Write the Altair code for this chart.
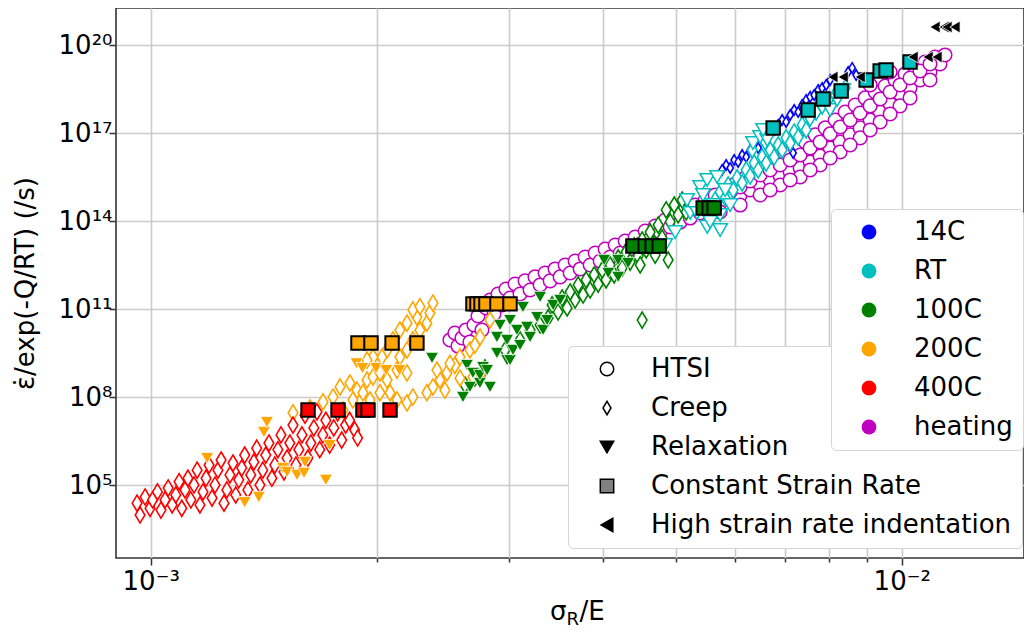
import altair as alt
import pandas as pd

# ---------------- categories ----------------
TEMPS = ["14C", "RT", "100C", "200C", "400C", "heating"]
TEMP_COLORS = ["#0000ff", "#00bfbf", "#008000", "#ffa500", "#ff0000", "#bf00bf"]
METHODS = ["HTSI", "Creep", "Relaxation", "Constant Strain Rate", "High strain rate indentation"]
THIN_DIAMOND = "M0,-1L0.6,0L0,1L-0.6,0Z"
METHOD_SHAPES = ["circle", THIN_DIAMOND, "triangle-down", "square", "triangle-left"]
METHOD_LEGEND_FILLS = ["white", "white", "black", "#808080", "black"]
METHOD_LEGEND_STROKES = ["black", "black", "black", "black", "black"]

# ---------------- data (x = sigma_R/E, y = strain rate / exp(-Q/RT)) ----------------
htsi_heating = [
    (0.002503, 8.8e9), (0.002541, 1.52e10), (0.002565, 5.45e9), (0.002597, 1.03e10), (0.002629, 1.93e10),
    (0.002661, 7.5e9), (0.002694, 2.85e10), (0.002728, 5.8e10), (0.002761, 1.93e10), (0.002796, 1.09e11),
    (0.002830, 2.03e11), (0.002865, 6.8e10), (0.002900, 3.25e11), (0.002936, 1.37e11), (0.002972, 4.8e11),
    (0.003009, 2.37e11), (0.003056, 7.1e11), (0.003103, 3.25e11), (0.003151, 9.1e11), (0.003200, 4.45e11),
    (0.003249, 1.24e12), (0.003300, 6.6e11), (0.003351, 1.69e12), (0.003403, 9.1e11), (0.003455, 2.32e12),
    (0.003509, 1.24e12), (0.003563, 3.17e12), (0.003618, 1.69e12), (0.003674, 4.33e12), (0.003731, 2.32e12),
    (0.003789, 5.9e12), (0.003847, 3.17e12), (0.003907, 8.1e12), (0.003967, 4.33e12), (0.004028, 1.11e13),
    (0.004090, 5.9e12), (0.004154, 1.52e13), (0.004218, 8.1e12), (0.004283, 2.08e13), (0.004349, 1.11e13),
    (0.004416, 2.85e13), (0.004485, 1.64e13), (0.004554, 4.57e13), (0.004624, 2.43e13), (0.004696, 6.75e13),
    (0.004768, 4.22e13), (0.004842, 1.08e14), (0.004917, 6.24e13), (0.004993, 1.61e14), (0.005070, 9.2e13),
    (0.005148, 2.38e14), (0.005228, 1.26e14), (0.005308, 3.5e14), (0.005390, 1.88e14), (0.005474, 5.2e14),
    (0.005558, 2.76e14), (0.005644, 7.7e14), (0.005731, 4.1e14), (0.005820, 1.14e15), (0.005910, 5.6e14),
    (0.006001, 1.83e15), (0.006094, 7.7e14), (0.006188, 2.94e15), (0.006283, 1.14e15), (0.006380, 4.7e15),
    (0.006479, 1.69e15), (0.006579, 7.5e15), (0.006680, 2.51e15), (0.006784, 1.20e16), (0.006888, 3.42e15),
    (0.006995, 1.93e16), (0.007103, 4.7e15), (0.007213, 3.08e16), (0.007324, 6.4e15), (0.007437, 4.96e16),
    (0.007552, 1.03e16), (0.007669, 8.6e16), (0.007787, 1.65e16), (0.007908, 1.49e17), (0.008030, 3.08e16),
    (0.008154, 2.78e17), (0.008280, 4.96e16), (0.008407, 5.2e17), (0.008537, 8.6e16), (0.008669, 9.0e17),
    (0.008803, 1.49e17), (0.008939, 1.57e18), (0.009077, 2.78e17), (0.009217, 2.5e18), (0.009360, 5.2e17),
    (0.009504, 4.0e18), (0.009651, 9.8e17), (0.009797, 6.43e18), (0.009948, 2.14e18), (0.010102, 1.03e19),
    (0.010258, 3.44e18), (0.010416, 1.65e19), (0.010577, 6.43e18), (0.010740, 2.64e19), (0.010905, 1.2e19),
    (0.011074, 3.9e19), (0.011245, 2.26e19), (0.011418, 4.58e19),
    (0.005731, 2.03e14), (0.006094, 3.5e14), (0.006479, 7.7e14), (0.006888, 1.69e15), (0.007324, 3.17e15),
    (0.007787, 8.1e15), (0.008280, 2.26e16), (0.008803, 6.8e16), (0.009360, 2.38e17), (0.009948, 8.4e17),
    (0.009077, 4.35e18), (0.009651, 1.2e19), (0.010258, 2.64e19),
    (0.006680, 1.14e15), (0.007103, 2.51e15), (0.007552, 5.5e15), (0.008030, 1.41e16), (0.008537, 3.9e16),
    (0.009077, 1.27e17), (0.009651, 4.46e17), (0.010258, 1.57e18), (0.010905, 6.43e18),
    (0.005910, 9.8e14), (0.006094, 1.45e15), (0.006283, 2.32e15), (0.006479, 3.7e15), (0.006680, 5.5e15),
    (0.006888, 8.1e15), (0.007103, 1.20e16), (0.007324, 1.78e16), (0.007552, 3.08e16), (0.007787, 4.96e16),
    (0.008030, 9.3e16), (0.008280, 1.61e17), (0.008537, 2.78e17), (0.008803, 4.82e17), (0.009077, 8.4e17),
    (0.009360, 1.45e18), (0.009651, 2.5e18), (0.009948, 4.35e18), (0.010258, 7.5e18), (0.010577, 1.30e19),
    (0.010905, 2.26e19),
]

creep_14C = [
    (0.005766, 5.5e15), (0.005837, 8.1e15), (0.005910, 6.4e15), (0.005982, 1.20e16), (0.006056, 1.03e16),
    (0.006131, 1.78e16), (0.006207, 1.52e16), (0.006283, 2.64e16), (0.006361, 3.9e16), (0.006440, 3.08e16),
    (0.006518, 5.8e16), (0.006599, 6.8e16), (0.006680, 1.08e17), (0.006763, 1.27e17), (0.006846, 1.88e17),
    (0.006931, 2.78e17), (0.007016, 2.38e17), (0.007103, 4.12e17), (0.007191, 6.1e17), (0.007280, 5.2e17),
    (0.007369, 9.0e17), (0.007460, 1.34e18), (0.007552, 1.7e18), (0.007645, 1.98e18), (0.007739, 2.93e18),
    (0.007835, 3.43e18), (0.007932, 4.35e18), (0.008030, 6.43e18), (0.008485, 1.2e19), (0.008590, 1.65e19),
    (0.008696, 9.5e18), (0.007168, 2.08e16),
]

creep_RT = [
    (0.005644, 5.2e14), (0.005731, 9.8e14), (0.005820, 6.1e14), (0.005874, 1.69e15), (0.005964, 1.14e15),
    (0.006038, 2.94e15), (0.006131, 1.98e15), (0.006207, 5.5e15), (0.006283, 3.42e15), (0.006361, 9.5e15),
    (0.006440, 5.5e15), (0.006518, 1.52e16), (0.006599, 9.5e15), (0.006680, 2.64e16), (0.006763, 1.52e16),
    (0.006846, 3.9e16), (0.006931, 2.64e16), (0.007016, 6.8e16), (0.007103, 4.57e16), (0.007191, 1.08e17),
    (0.007280, 7.3e16), (0.007369, 1.88e17), (0.007460, 1.27e17), (0.007552, 3.25e17), (0.007692, 5.2e17),
    (0.007835, 8.4e17), (0.007981, 1.34e18), (0.006579, 4.96e16), (0.006322, 2.64e16), (0.008154, 1.98e18),
    (0.008407, 3.43e18),
]

creep_100C = [
    (0.002621, 2.56e8), (0.002702, 4.45e8), (0.002787, 9.8e8), (0.002963, 4.0e9), (0.003103, 8.8e9),
    (0.003200, 1.93e10), (0.003300, 2.85e10), (0.003382, 4.94e10), (0.003424, 1.37e11), (0.003487, 7.9e10),
    (0.003530, 2.37e11), (0.003585, 1.09e11), (0.003618, 3.8e11), (0.003674, 2.03e11), (0.003708, 6.6e11),
    (0.003765, 3.0e11), (0.003800, 9.8e11), (0.003847, 4.45e11), (0.003895, 1.45e12), (0.003943, 7.1e11),
    (0.003992, 2.14e12), (0.004040, 9.8e11), (0.004090, 3.17e12), (0.004141, 1.45e12), (0.004192, 5.5e12),
    (0.004244, 2.5e12), (0.004296, 8.8e12), (0.004349, 4.0e12), (0.004403, 1.41e13), (0.004457, 6.4e12),
    (0.004512, 2.25e13), (0.004568, 1.03e13), (0.004624, 4.2e13), (0.004681, 1.64e13), (0.004739, 7.3e13),
    (0.004797, 2.64e13), (0.004857, 2.38e14), (0.004917, 9.3e13), (0.004978, 3.5e14), (0.005039, 1.61e14),
    (0.005101, 5.2e14), (0.005164, 2.03e14), (0.004887, 4.69e12), (0.004512, 4.2e10), (0.004696, 6.9e12),
    (0.004485, 3.17e12),
]

creep_200C = [
    (0.001547, 2.9e7), (0.001630, 4.2e7), (0.001696, 6.8e7), (0.001749, 1.0e8), (0.001787, 2.2e8),
    (0.001842, 3.0e8), (0.001882, 1.7e8), (0.001941, 3.8e8), (0.001977, 4.8e8), (0.002020, 6.6e8),
    (0.002064, 3.8e8), (0.002128, 8.3e8), (0.002194, 6.6e8), (0.002147, 2.3e9), (0.002194, 4.0e9),
    (0.002234, 8.8e9), (0.002283, 1.9e10), (0.002332, 3.3e10), (0.002354, 7.3e10), (0.002376, 1.6e11),
    (0.002262, 5.3e10), (0.002194, 3.3e10), (0.002147, 1.9e10), (0.002102, 8.8e9), (0.002064, 4.0e9),
    (0.002032, 2.3e9), (0.001977, 2.3e9), (0.001941, 1.8e9), (0.002234, 9.3e10), (0.002283, 1.2e11),
    (0.001803, 3.6e7), (0.001859, 7.9e7), (0.001917, 1.4e8), (0.001959, 7.9e7), (0.002020, 1.4e8),
    (0.002083, 1.4e8), (0.002128, 7.9e7), (0.002194, 6.3e7), (0.002234, 1.0e8), (0.002332, 1.4e8),
    (0.002376, 2.2e8), (0.002427, 3.8e8), (0.002480, 6.6e8), (0.002541, 1.2e9), (0.002581, 2.3e9),
    (0.002661, 4.0e9), (0.002702, 5.9e9), (0.002745, 1.1e10), (0.002830, 4.2e10), (0.002465, 1.7e8),
    (0.002581, 4.4e8), (0.002686, 4.8e8), (0.002770, 8.3e8), (0.002405, 8.3e8), (0.002503, 1.4e9),
]

creep_400C = [
    (0.000959, 2.4e4), (0.000968, 9.5e3), (0.000983, 3.9e4), (0.000998, 1.6e4), (0.001006, 3.1e4),
    (0.001021, 5.8e4), (0.001032, 1.4e4), (0.001045, 3.1e4), (0.001055, 7.9e4), (0.001068, 2.1e4),
    (0.001080, 4.6e4), (0.001091, 1.3e5), (0.001100, 1.6e4), (0.001111, 6.8e4), (0.001121, 1.7e5),
    (0.001131, 3.1e4), (0.001142, 1.0e5), (0.001153, 3.2e5), (0.001163, 2.1e4), (0.001174, 5.8e4),
    (0.001185, 1.7e5), (0.001196, 4.8e5), (0.001207, 3.6e4), (0.001218, 1.0e5), (0.001229, 3.2e5),
    (0.001241, 7.1e5), (0.001252, 2.4e4), (0.001263, 6.8e4), (0.001275, 2.2e5), (0.001287, 5.6e5),
    (0.001298, 4.6e4), (0.001310, 1.5e5), (0.001322, 3.8e5), (0.001334, 1.05e6), (0.001347, 6.8e4),
    (0.001359, 2.2e5), (0.001372, 6.1e5), (0.001384, 1.8e6), (0.001398, 1.0e5), (0.001410, 3.2e5),
    (0.001423, 1.05e6), (0.001437, 2.7e6), (0.001450, 1.7e5), (0.001463, 4.8e5), (0.001477, 1.6e6),
    (0.001491, 5.1e6), (0.001505, 2.8e5), (0.001519, 8.3e5), (0.001532, 2.7e6), (0.001547, 1.1e7),
    (0.001561, 4.8e5), (0.001575, 1.6e6), (0.001590, 5.1e6), (0.001605, 2.4e7), (0.001619, 8.3e5),
    (0.001634, 2.7e6), (0.001649, 8.8e6), (0.001665, 3.1e7), (0.001679, 1.6e6), (0.001695, 5.1e6),
    (0.001711, 1.6e7), (0.001731, 2.3e6), (0.001753, 8.8e6), (0.001774, 2.9e7), (0.001796, 3.4e6),
    (0.001818, 1.1e7), (0.001840, 1.6e7), (0.001869, 7.5e6), (0.001886, 4.0e6),
]

relax_RT = [
    (0.005178, 5.2e14), (0.005228, 1.88e14), (0.005339, 1.88e14), (0.005390, 1.45e15), (0.005438, 7.7e14),
    (0.005507, 2.51e15), (0.005507, 6.3e13), (0.005558, 9.3e13), (0.005609, 3.5e14), (0.005677, 3.17e15),
    (0.005731, 4.94e13), (0.005731, 1.61e14), (0.005820, 1.14e15), (0.005910, 3.5e14), (0.006339, 4.57e16),
    (0.006479, 7.3e16), (0.006619, 5.8e16), (0.006538, 1.27e17), (0.008030, 6.1e17), (0.008204, 1.34e18),
    (0.008356, 2.93e18), (0.004842, 1.52e13), (0.004993, 4.2e13),
]

relax_100C = [
    (0.002369, 2.14e9), (0.002605, 1.0e8), (0.002637, 1.23e9), (0.002661, 2.2e8), (0.002686, 6.6e8),
    (0.002744, 3.0e8), (0.002744, 5.6e8), (0.002770, 1.05e9), (0.002805, 8.3e8), (0.002830, 2.2e8),
    (0.002891, 1.11e10), (0.002891, 3.16e9), (0.002982, 8.8e9), (0.002982, 1.8e9), (0.003009, 4.2e10),
    (0.003009, 1.8e9), (0.003037, 4.0e9), (0.003074, 1.93e10), (0.003131, 1.17e11), (0.003170, 2.44e10),
    (0.003200, 1.11e10), (0.003269, 5.3e10), (0.003300, 2.57e11), (0.003330, 1.93e10), (0.003372, 4.2e10),
    (0.003434, 1.37e11), (0.004016, 4.69e12), (0.004066, 1.69e12), (0.004192, 4.69e12), (0.004192, 1.24e12),
    (0.004322, 3.7e12), (0.003509, 2.03e11), (0.003103, 5.9e9), (0.002918, 2.85e10),
]

relax_200C = [
    (0.001334, 2.6e4), (0.001393, 3.9e4), (0.001189, 8.3e5), (0.001415, 6.4e6), (0.001428, 1.4e7),
    (0.001500, 3.8e5), (0.001519, 2.8e5), (0.001566, 2.2e5), (0.001600, 2.6e5), (0.001605, 6.1e5),
    (0.001711, 1.5e5), (0.001731, 2.3e6), (0.001880, 1.4e9), (0.001914, 9.7e8), (0.001996, 9.7e8),
    (0.002059, 8.3e8), (0.002144, 8.3e8),
]

csr_RT = [
    (0.006742, 1.49e17), (0.007506, 6.1e17), (0.007857, 1.45e18), (0.008305, 2.71e18), (0.008966, 6.43e18),
    (0.009360, 1.30e19), (0.009530, 1.41e19), (0.010258, 2.64e19),
]
csr_100C = [
    (0.004386, 1.41e13), (0.004554, 1.41e13), (0.004653, 1.41e13), (0.004754, 1.41e13),
    (0.005440, 2.78e14), (0.005541, 2.78e14), (0.005627, 2.78e14),
]
csr_200C = [
    (0.001888, 6.9e9), (0.001965, 6.9e9), (0.002096, 6.9e9), (0.002262, 6.9e9),
    (0.002686, 1.5e11), (0.002719, 1.5e11), (0.002753, 1.5e11), (0.002795, 1.5e11),
    (0.002891, 1.5e11), (0.003009, 1.5e11),
]
csr_400C = [
    (0.001620, 3.6e7), (0.001776, 3.6e7), (0.001917, 3.6e7), (0.001947, 3.6e7), (0.002083, 3.6e7),
]

hsri = [
    (0.008097, 8.1e18), (0.008356, 8.1e18), (0.008803, 8.1e18),
    (0.010353, 3.9e19), (0.010840, 3.9e19), (0.011142, 3.9e19),
    (0.011074, 4.1e20), (0.011383, 4.1e20), (0.011488, 4.1e20), (0.011773, 4.1e20),
]

X_TICKS = [0.001, 0.002, 0.003, 0.004, 0.005, 0.006, 0.007, 0.008, 0.009, 0.01]
Y_TICKS = [1e5, 1e8, 1e11, 1e14, 1e17, 1e20]
X_DOMAIN = [0.0008991, 0.014548]
Y_DOMAIN = [324.6, 1.826e21]

# ---------------- table ----------------
series = [
    (htsi_heating, "heating", "HTSI"),
    (creep_14C, "14C", "Creep"), (creep_RT, "RT", "Creep"), (creep_100C, "100C", "Creep"),
    (creep_200C, "200C", "Creep"), (creep_400C, "400C", "Creep"),
    (relax_RT, "RT", "Relaxation"), (relax_100C, "100C", "Relaxation"), (relax_200C, "200C", "Relaxation"),
    (csr_RT, "RT", "Constant Strain Rate"), (csr_100C, "100C", "Constant Strain Rate"),
    (csr_200C, "200C", "Constant Strain Rate"), (csr_400C, "400C", "Constant Strain Rate"),
    (hsri, "n/a", "High strain rate indentation"),
]
rows = []
for pts, temp, method in series:
    for xv, yv in pts:
        rows.append({"x": xv, "y": yv, "temp": temp, "method": method})
df = pd.DataFrame(rows)

FONT = "DejaVu Sans"
FS = 26

x_scale = alt.Scale(type="log", domain=X_DOMAIN, nice=False)
y_scale = alt.Scale(type="log", domain=Y_DOMAIN, nice=False)

major_test = "datum.value < 0.0015 || (datum.value > 0.0095 && datum.value < 0.0105)"
x_axis = alt.Axis(
    values=X_TICKS, title=None, grid=True, labelOverlap=False, labelFlush=False,
    labelExpr="datum.value < 0.0015 ? '10⁻³' : ((datum.value > 0.0095 && datum.value < 0.0105) ? '10⁻²' : '')",
    tickSize={"condition": {"test": major_test, "value": 7}, "value": 4},
    labelPadding=3,
)
y_axis = alt.Axis(
    values=Y_TICKS, grid=True, labelOverlap=False, labelFlush=False,
    labelExpr=("datum.value > 5e19 ? '10²⁰' : datum.value > 5e16 ? '10¹⁷' : datum.value > 5e13 ? '10¹⁴' : "
               "datum.value > 5e10 ? '10¹¹' : datum.value > 5e7 ? '10⁸' : '10⁵'"),
    title="ε̇/exp(-Q/RT) (/s)", titleX=-91, titleY=275, titleAngle=270,
    titleAlign="center", titleBaseline="middle", tickSize=7, labelPadding=-3,
)

legend_box = dict(fillColor="white", strokeColor="#d4d4d4", cornerRadius=5, padding=10,
                  labelFontSize=FS, labelFont=FONT, labelColor="black", labelLimit=600,
                  rowPadding=13, title=None, orient="none", direction="vertical", symbolOpacity=1)

color_legend = alt.Legend(legendX=715, legendY=201, symbolType="circle", symbolSize=220,
                          symbolStrokeWidth=0, symbolOffset=15, labelOffset=32, zindex=2, **legend_box)
method_legend_props = dict(legendX=452, legendY=338, symbolSize=180, symbolStrokeWidth=1.5,
                           symbolOffset=16, labelOffset=31, zindex=1, **legend_box)

color_enc = alt.Color("temp:N", scale=alt.Scale(domain=TEMPS, range=TEMP_COLORS), legend=color_legend)
shape_enc = alt.Shape("method:N", scale=alt.Scale(domain=METHODS, range=METHOD_SHAPES),
                      legend=alt.Legend(**method_legend_props))
fill_enc = alt.Fill("method:N", scale=alt.Scale(domain=METHODS, range=METHOD_LEGEND_FILLS),
                    legend=alt.Legend(**method_legend_props))
stroke_enc = alt.Stroke("method:N", scale=alt.Scale(domain=METHODS, range=METHOD_LEGEND_STROKES),
                        legend=alt.Legend(**method_legend_props))
color_plain = alt.Color("temp:N", scale=alt.Scale(domain=TEMPS, range=TEMP_COLORS))
shape_plain = alt.Shape("method:N", scale=alt.Scale(domain=METHODS, range=METHOD_SHAPES))

base = alt.Chart(df)
xe = alt.X("x:Q", scale=x_scale, axis=x_axis)
ye = alt.Y("y:Q", scale=y_scale, axis=y_axis)
xp = alt.X("x:Q", scale=x_scale)
yp = alt.Y("y:Q", scale=y_scale)

# legend carriers (draw nothing; each supplies one legend)
carrier_color = base.transform_filter("false").mark_point(filled=True, opacity=1).encode(
    x=xe, y=ye, color=color_enc)
carrier_method = base.transform_filter("false").mark_point(filled=True, opacity=1).encode(
    x=xp, y=yp, shape=shape_enc, fill=fill_enc, stroke=stroke_enc)

htsi_layer = base.transform_filter(alt.datum.method == "HTSI").mark_point(
    filled=False, fill="white", strokeWidth=1.5, size=185, opacity=1
).encode(x=xp, y=yp, color=color_plain, shape=shape_plain)

creep_layer = base.transform_filter(alt.datum.method == "Creep").mark_point(
    filled=False, fill="white", strokeWidth=1.6, opacity=1
).encode(x=xp, y=yp, color=color_plain, shape=shape_plain,
         size=alt.condition(alt.datum.temp == "14C", alt.value(110), alt.value(260)))

relax_open = base.transform_filter((alt.datum.method == "Relaxation") & (alt.datum.temp == "RT")).mark_point(
    filled=False, fill="white", strokeWidth=1.5, size=210, opacity=1
).encode(x=xp, y=yp, color=color_plain, shape=shape_plain)

relax_filled = base.transform_filter((alt.datum.method == "Relaxation") & (alt.datum.temp != "RT")).mark_point(
    filled=True, stroke="white", strokeWidth=0.8, size=170, opacity=1
).encode(x=xp, y=yp, color=color_plain, shape=shape_plain)

csr_layer = base.transform_filter(alt.datum.method == "Constant Strain Rate").mark_point(
    filled=True, stroke="black", strokeWidth=2, size=180, opacity=1
).encode(x=xp, y=yp, color=color_plain, shape=shape_plain)

hsri_layer = base.transform_filter(alt.datum.method == "High strain rate indentation").mark_point(
    filled=True, color="black", stroke="white", strokeWidth=0.8, size=140, opacity=1
).encode(x=xp, y=yp, shape=shape_plain)

# x-axis title with subscript, as real text
t_sigma = alt.Chart(pd.DataFrame({"t": ["σ"]})).mark_text(
    align="left", baseline="alphabetic", fontSize=FS, font=FONT, color="black"
).encode(text="t:N", x=alt.value(434), y=alt.value(612))
t_sub = alt.Chart(pd.DataFrame({"t": ["R"]})).mark_text(
    align="left", baseline="alphabetic", fontSize=18, font=FONT, color="black"
).encode(text="t:N", x=alt.value(450.5), y=alt.value(617))
t_rest = alt.Chart(pd.DataFrame({"t": ["/E"]})).mark_text(
    align="left", baseline="alphabetic", fontSize=FS, font=FONT, color="black"
).encode(text="t:N", x=alt.value(463.5), y=alt.value(612))

chart = alt.layer(
    carrier_color, carrier_method, htsi_layer, creep_layer, relax_open, relax_filled, csr_layer, hsri_layer,
    t_sigma, t_sub, t_rest
).properties(
    width=908, height=550,
    padding={"left": 108, "top": 0, "right": 0, "bottom": 72},
    autosize=alt.AutoSizeParams(type="none"),
).configure_view(
    stroke="#333333", strokeWidth=1.6
).configure_axis(
    labelFont=FONT, titleFont=FONT, labelFontSize=FS, titleFontSize=FS, titleFontWeight="normal",
    labelColor="black", titleColor="black", domain=False, tickColor="#333333", tickWidth=1.5,
    gridColor="#cbcbcb", gridWidth=1.6,
).configure_legend(labelFont=FONT)

chart.save("out.html", embed_options={"renderer": "svg", "actions": False})
